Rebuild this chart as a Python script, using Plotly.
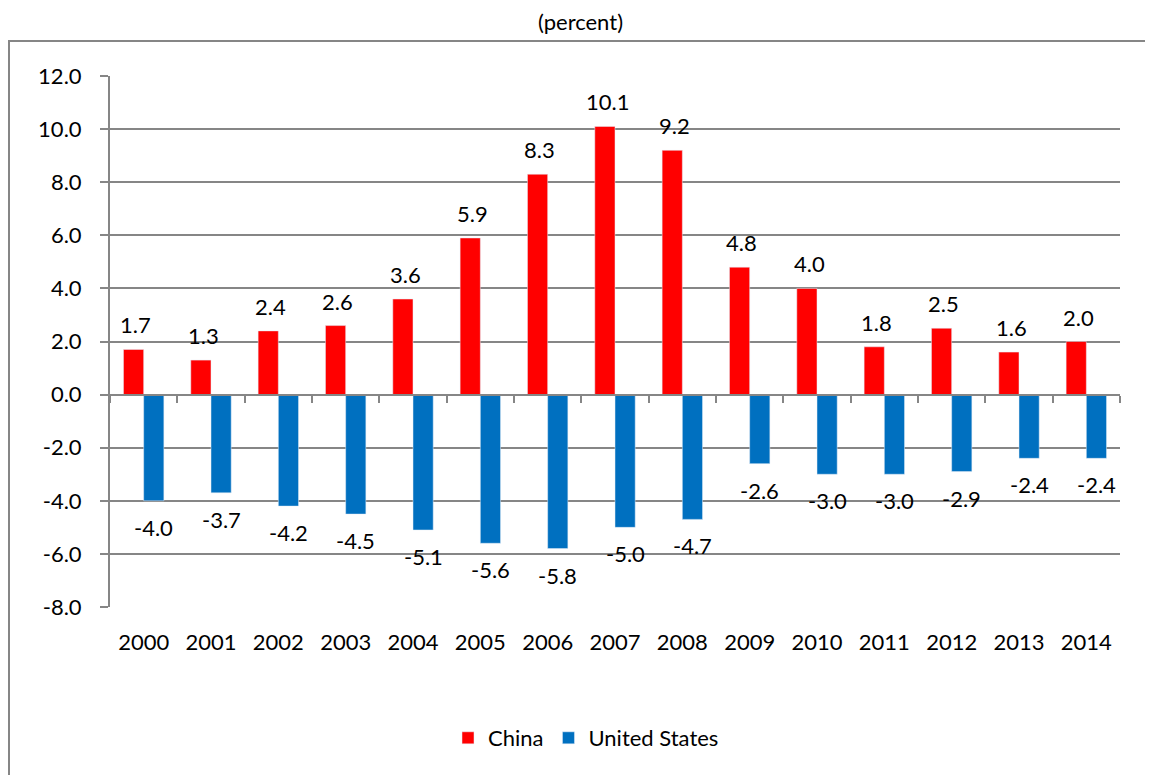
import plotly.graph_objects as go

years = ["2000", "2001", "2002", "2003", "2004", "2005", "2006", "2007",
         "2008", "2009", "2010", "2011", "2012", "2013", "2014"]
china = [1.7, 1.3, 2.4, 2.6, 3.6, 5.9, 8.3, 10.1, 9.2, 4.8, 4.0, 1.8, 2.5, 1.6, 2.0]
us = [-4.0, -3.7, -4.2, -4.5, -5.1, -5.6, -5.8, -5.0, -4.7, -2.6, -3.0, -3.0, -2.9, -2.4, -2.4]
y_ticks = [-8, -6, -4, -2, 0, 2, 4, 6, 8, 10, 12]

FONT = "Lato"
GRID = "#868686"
FS = 22
xpos = list(range(len(years)))

# page offset (body margin) compensation: plot area in figure px
L, R, T, B = 102, 1112, 68, 599
W, H = 1153, 775
pw, ph = R - L, B - T

fig = go.Figure()
fig.add_trace(go.Bar(x=xpos, y=china, name="China", marker_color="#FF0000"))
fig.add_trace(go.Bar(x=xpos, y=us, name="United States", marker_color="#0070C0"))
# invisible trace so the zero-line category axis is drawn
fig.add_trace(go.Scatter(x=[None], y=[None], xaxis="x2", showlegend=False,
                         hoverinfo="skip"))

annotations = []
for i, v in zip(xpos, china):
    annotations.append(dict(x=i, y=v, xref="x", yref="y", text=f"{v:.1f}",
                            showarrow=False, xshift=-8, yshift=9,
                            yanchor="bottom", xanchor="center",
                            font=dict(size=FS, family=FONT, color="black")))
for i, v in zip(xpos, us):
    annotations.append(dict(x=i, y=v, xref="x", yref="y", text=f"{v:.1f}",
                            showarrow=False, xshift=10, yshift=-11,
                            yanchor="top", xanchor="center",
                            font=dict(size=FS, family=FONT, color="black")))
# chart title as an annotation
annotations.append(dict(x=(572 - L) / pw, y=(B - 13) / ph, xref="paper",
                        yref="paper", text="(percent)", showarrow=False,
                        xanchor="center", yanchor="middle",
                        font=dict(size=22, family=FONT, color="black")))

ymin, ymax = -8, 12
fig.update_layout(
    width=W, height=H,
    margin=dict(l=L, r=W - R, t=T, b=H - B, autoexpand=False),
    paper_bgcolor="white", plot_bgcolor="white",
    font=dict(family=FONT, size=FS, color="black"),
    barmode="group", bargap=0.4, bargroupgap=0,
    showlegend=True,
    legend=dict(orientation="h", x=(578 - L) / pw, xanchor="center",
                y=(B - 730) / ph, yanchor="middle",
                font=dict(size=FS, family=FONT),
                itemwidth=30, traceorder="normal"),
    annotations=annotations,
    xaxis=dict(range=[-0.5, len(years) - 0.5], tickvals=xpos, ticktext=years,
               showgrid=False, zeroline=False, showline=False,
               ticks="outside", ticklen=16, tickcolor="rgba(0,0,0,0)",
               tickfont=dict(size=FS, family=FONT)),
    xaxis2=dict(overlaying="x", matches="x", anchor="free",
                position=(0 - ymin) / (ymax - ymin),
                showline=True, linecolor=GRID, linewidth=2,
                tickvals=[i - 0.5 for i in range(len(years) + 1)],
                showticklabels=False, ticks="outside", ticklen=7,
                tickcolor=GRID, tickwidth=2, showgrid=False, zeroline=False),
    yaxis=dict(range=[ymin, ymax], tickvals=y_ticks,
               ticktext=[f"{v:.1f}" for v in y_ticks],
               showgrid=True, gridcolor=GRID, gridwidth=1.5,
               zeroline=False, showline=True, linecolor=GRID, linewidth=2,
               ticks="outside", ticklen=8, tickcolor=GRID, tickwidth=2,
               ticklabelstandoff=14,
               tickfont=dict(size=FS, family=FONT)),
    shapes=[dict(type="rect", xref="paper", yref="paper",
                 x0=(1 - L) / pw, x1=(1170 - L) / pw,
                 y0=(B - 790) / ph, y1=(B - 33) / ph,
                 line=dict(color=GRID, width=2), fillcolor="rgba(0,0,0,0)",
                 layer="below")],
)

fig.write_html("out.html")
